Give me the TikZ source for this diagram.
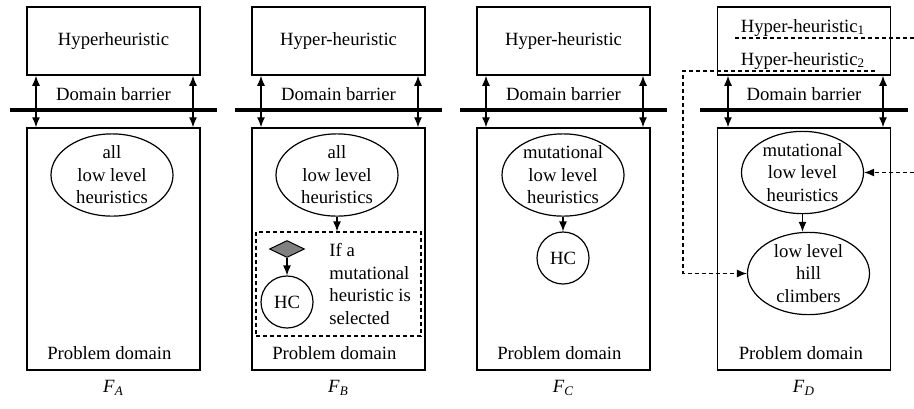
\documentclass[tikz,border=0pt]{standalone}
\usepackage{fontspec}
\setmainfont{Liberation Serif}
\usetikzlibrary{shapes.geometric,arrows.meta,positioning}
\newcommand{\fname}[1]{\textit{F}\textsubscript{\textit{#1}}}

\begin{document}
\begin{tikzpicture}[
    x=0.5pt, y=-0.5pt,
    hyper/.style={rectangle,draw,line width=0.75pt,minimum width=86.5pt,
                  minimum height=34pt,inner sep=0},
    probbox/.style={rectangle,draw,line width=0.75pt,minimum width=86.5pt,
                    minimum height=121pt,inner sep=0},
    barrier/.style={line width=2pt},
    heur/.style={ellipse,draw,line width=0.6pt,minimum width=61pt,
                 minimum height=40pt,inner sep=0,align=center},
    hc/.style={circle,draw,line width=0.6pt,minimum size=26pt,inner sep=0},
    choice/.style={diamond,draw,fill=gray,line width=0.5pt,
                   minimum width=17.5pt,minimum height=8.5pt,inner sep=0},
    selbox/.style={rectangle,draw,line width=0.6pt,dash pattern=on 2pt off 1.5pt,
                   minimum width=82.5pt,minimum height=52pt,inner sep=0},
    cross/.style={{Latex[length=5pt,width=4pt]}-{Latex[length=5pt,width=4pt]},
                  line width=0.6pt},
    link/.style={-{Latex[length=5pt,width=4pt]},line width=0.6pt},
    dlink/.style={link,dash pattern=on 2pt off 1.5pt},
    dline/.style={line width=0.6pt,dash pattern=on 2pt off 1.5pt}
]

    \tikzstyle{every node}=[font=\fontsize{9.35}{11.25}\selectfont];

    \useasboundingbox (0,0) rectangle (914,408);

    % F_A
    \node[hyper] (hA) at (113.5,41) {Hyperheuristic};
    \node[probbox] (pA) at (113.5,249) {};
    \draw[barrier] (10,110) -- (217,110);
    \node[anchor=base] (bA) at (113.5,100) {Domain barrier};
    \draw[cross] ([xshift=-38.75pt]hA.south) -- ([xshift=-38.75pt]pA.north);
    \draw[cross] ([xshift=39.75pt]hA.south) -- ([xshift=39.75pt]pA.north);
    \node[heur] (eA) at (112,175) {all\\low level\\heuristics};
    \node[anchor=base west] (tA) at ([xshift=7pt,yshift=5.5pt]pA.south west)
        {Problem domain};
    \node (fA) at (113.5,388) {\fname{A}};

    % F_B
    \node[hyper] (hB) at (338.5,41) {Hyper-heuristic};
    \node[probbox] (pB) at (338.5,249) {};
    \draw[barrier] (235,110) -- (442,110);
    \node[anchor=base] (bB) at (338.5,100) {Domain barrier};
    \draw[cross] ([xshift=-38.75pt]hB.south) -- ([xshift=-38.75pt]pB.north);
    \draw[cross] ([xshift=39.75pt]hB.south) -- ([xshift=39.75pt]pB.north);
    \node[heur] (eB) at (337,175) {all\\low level\\heuristics};
    \node[selbox] (sB) at (338.5,284) {};
    \draw[link] (eB.south) -- (eB.south |- sB.north);
    \node[choice] (dB) at (287,249) {};
    \node[hc] (cB) at (287,302) {HC};
    \draw[link] (dB) -- (cB);
    \node[anchor=west,align=left,inner sep=0] (qB) at (329,284)
        {If a\\mutational\\heuristic is\\selected};
    \node[anchor=base west] (tB) at ([xshift=7pt,yshift=5.5pt]pB.south west)
        {Problem domain};
    \node (fB) at (338.5,388) {\fname{B}};

    % F_C
    \node[hyper] (hC) at (563.5,41) {Hyper-heuristic};
    \node[probbox] (pC) at (563.5,249) {};
    \draw[barrier] (460,110) -- (667,110);
    \node[anchor=base] (bC) at (563.5,100) {Domain barrier};
    \draw[cross] ([xshift=-38.75pt]hC.south) -- ([xshift=-38.75pt]pC.north);
    \draw[cross] ([xshift=39.75pt]hC.south) -- ([xshift=39.75pt]pC.north);
    \node[heur] (eC) at (563,175) {mutational\\low level\\heuristics};
    \node[hc] (cC) at (563,258) {HC};
    \draw[link] (eC) -- (cC);
    \node[anchor=base west] (tC) at ([xshift=7pt,yshift=5.5pt]pC.south west)
        {Problem domain};
    \node (fC) at (563.5,388) {\fname{C}};

    % F_D
    \node[hyper] (hD) at (804,41) {};
    \node[anchor=base] (hD1) at (803,32) {Hyper-heuristic\textsubscript{1}};
    \node[anchor=base] (hD2) at (803,65) {Hyper-heuristic\textsubscript{2}};
    \node[probbox] (pD) at (804,249) {};
    \draw[barrier] (700,110) -- (908,110);
    \node[anchor=base] (bD) at (804,100) {Domain barrier};
    \draw[cross] ([xshift=-38pt]hD.south) -- ([xshift=-38pt]pD.north);
    \draw[cross] ([xshift=39.5pt]hD.south) -- ([xshift=39.5pt]pD.north);
    \node[heur] (eD1) at (802.5,172.5) {mutational\\low level\\heuristics};
    \node[heur] (eD2) at (808.5,273.5) {low level\\hill\\climbers};
    \draw[link] (eD1.south) -- (eD1.south |- eD2.north);
    \coordinate (uD1) at (735,38);
    \coordinate (xD1) at (914,38);
    \coordinate (uD2) at (875,71);
    \coordinate (xD2) at (914,172.5);
    \draw[dline] (uD1) -- (xD1);
    \draw[dlink] (uD2) -- ++(-192,0) |- (eD2.west);
    \draw[dlink] (xD2) -- (eD1.east);
    \node[anchor=base west] (tD) at ([xshift=7.5pt,yshift=5.5pt]pD.south west)
        {Problem domain};
    \node (fD) at (804,388) {\fname{D}};

\end{tikzpicture}
\end{document}
